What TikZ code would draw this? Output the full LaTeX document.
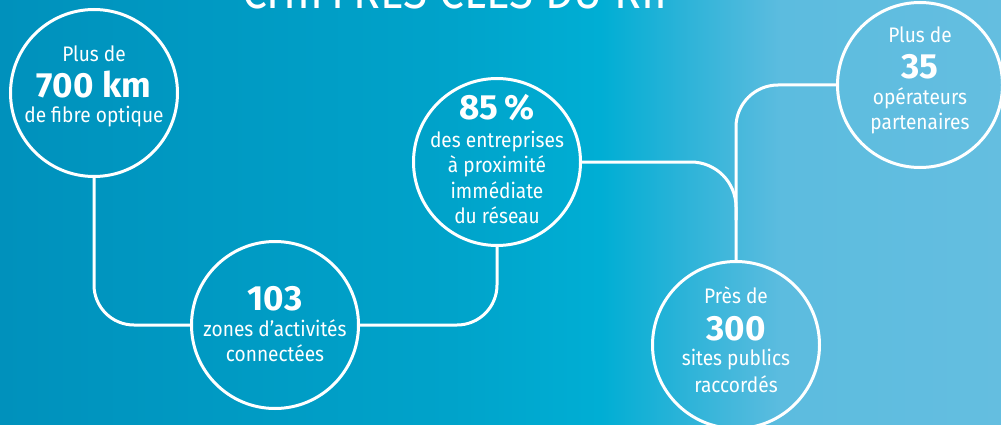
\documentclass[tikz,border=0pt]{standalone}
\usepackage{fontspec}
\setmainfont{Fira Sans}[FakeStretch=0.91, BoldFeatures={FakeStretch=1.0}]
\definecolor{bgA}{HTML}{0091BC}
\definecolor{bgB}{HTML}{00A3CA}
\definecolor{bgC}{HTML}{00AED4}
\definecolor{bgD}{HTML}{2AB3D8}
\definecolor{bgE}{HTML}{5CBCDF}
\definecolor{bgF}{HTML}{64BEE0}
\pgfdeclarehorizontalshading{bgshade}{100bp}{color(0bp)=(bgA); color(25bp)=(bgA); color(47.5bp)=(bgB); color(55bp)=(bgC); color(59bp)=(bgD); color(64bp)=(bgE); color(75bp)=(bgF); color(100bp)=(bgF)}
\tikzset{
  stat/.style={circle, draw=white, line width=3pt, minimum size=167pt, inner sep=0pt},
  conn/.style={draw=white, line width=3pt},
  small/.style={text=white, font=\fontsize{21}{21}\selectfont, anchor=base, inner sep=0pt},
  big/.style={text=white, font=\fontsize{35}{35}\selectfont\bfseries, anchor=base, inner sep=0pt},
  titletext/.style={text=white, anchor=base west, inner sep=0pt}
}
\begin{document}
\begin{tikzpicture}[x=1pt,y=-1pt]
\useasboundingbox (0,0) rectangle (1001,425);
\clip (0,0) rectangle (1001,425);
\shade[shading=bgshade] (0,0) rectangle (1001,425);
% title (cut off at top)
\node[titletext] (title) at (242,9) {\resizebox{438pt}{!}{\fontsize{50}{50}\selectfont CHIFFRES CLÉS DU RIP}};
% circles
\node[stat] (c1) at (94,93) {};
\node[stat] (c2) at (275,325) {};
\node[stat] (c3) at (497,162) {};
\node[stat] (c4) at (736,345) {};
\node[stat, minimum size=165pt] (c5) at (920,85) {};
% connectors
\coordinate (j) at (736,220);
\draw[conn, rounded corners=40pt] (c1.south) |- (c2.west);
\draw[conn, rounded corners=40pt] (c2.east) -| (c3.south);
\draw[conn, rounded corners=45pt] (c3.east) -| (c4.north);
\draw[conn, rounded corners=42pt] (c5.west) -| (j);
% texts circle 1
\node[small] (t1a) at (94,62) {Plus de};
\node[big] (t1b) at (94,98) {700 km};
\node[small] (t1c) at (94,123) {de fibre optique};
% circle 2
\node[big] (t2a) at (275,310) {103};
\node[small] (t2b) at (275,336) {zones d’activités};
\node[small] (t2c) at (275,361) {connectées};
% circle 3
\node[big] (t3a) at (497,120) {85\,\%};
\node[small] (t3b) at (497,147) {des entreprises};
\node[small] (t3c) at (497,172) {à proximité};
\node[small] (t3d) at (497,198) {immédiate};
\node[small] (t3e) at (497,223) {du réseau};
% circle 4
\node[small] (t4a) at (736,303) {Près de};
\node[big] (t4b) at (736,340) {300};
\node[small] (t4c) at (736,365) {sites publics};
\node[small] (t4d) at (736,392) {raccordés};
% circle 5
\node[small] (t5a) at (920,43) {Plus de};
\node[big] (t5b) at (920,79) {35};
\node[small] (t5c) at (920,105) {opérateurs};
\node[small] (t5d) at (920,130) {partenaires};
\end{tikzpicture}
\end{document}
